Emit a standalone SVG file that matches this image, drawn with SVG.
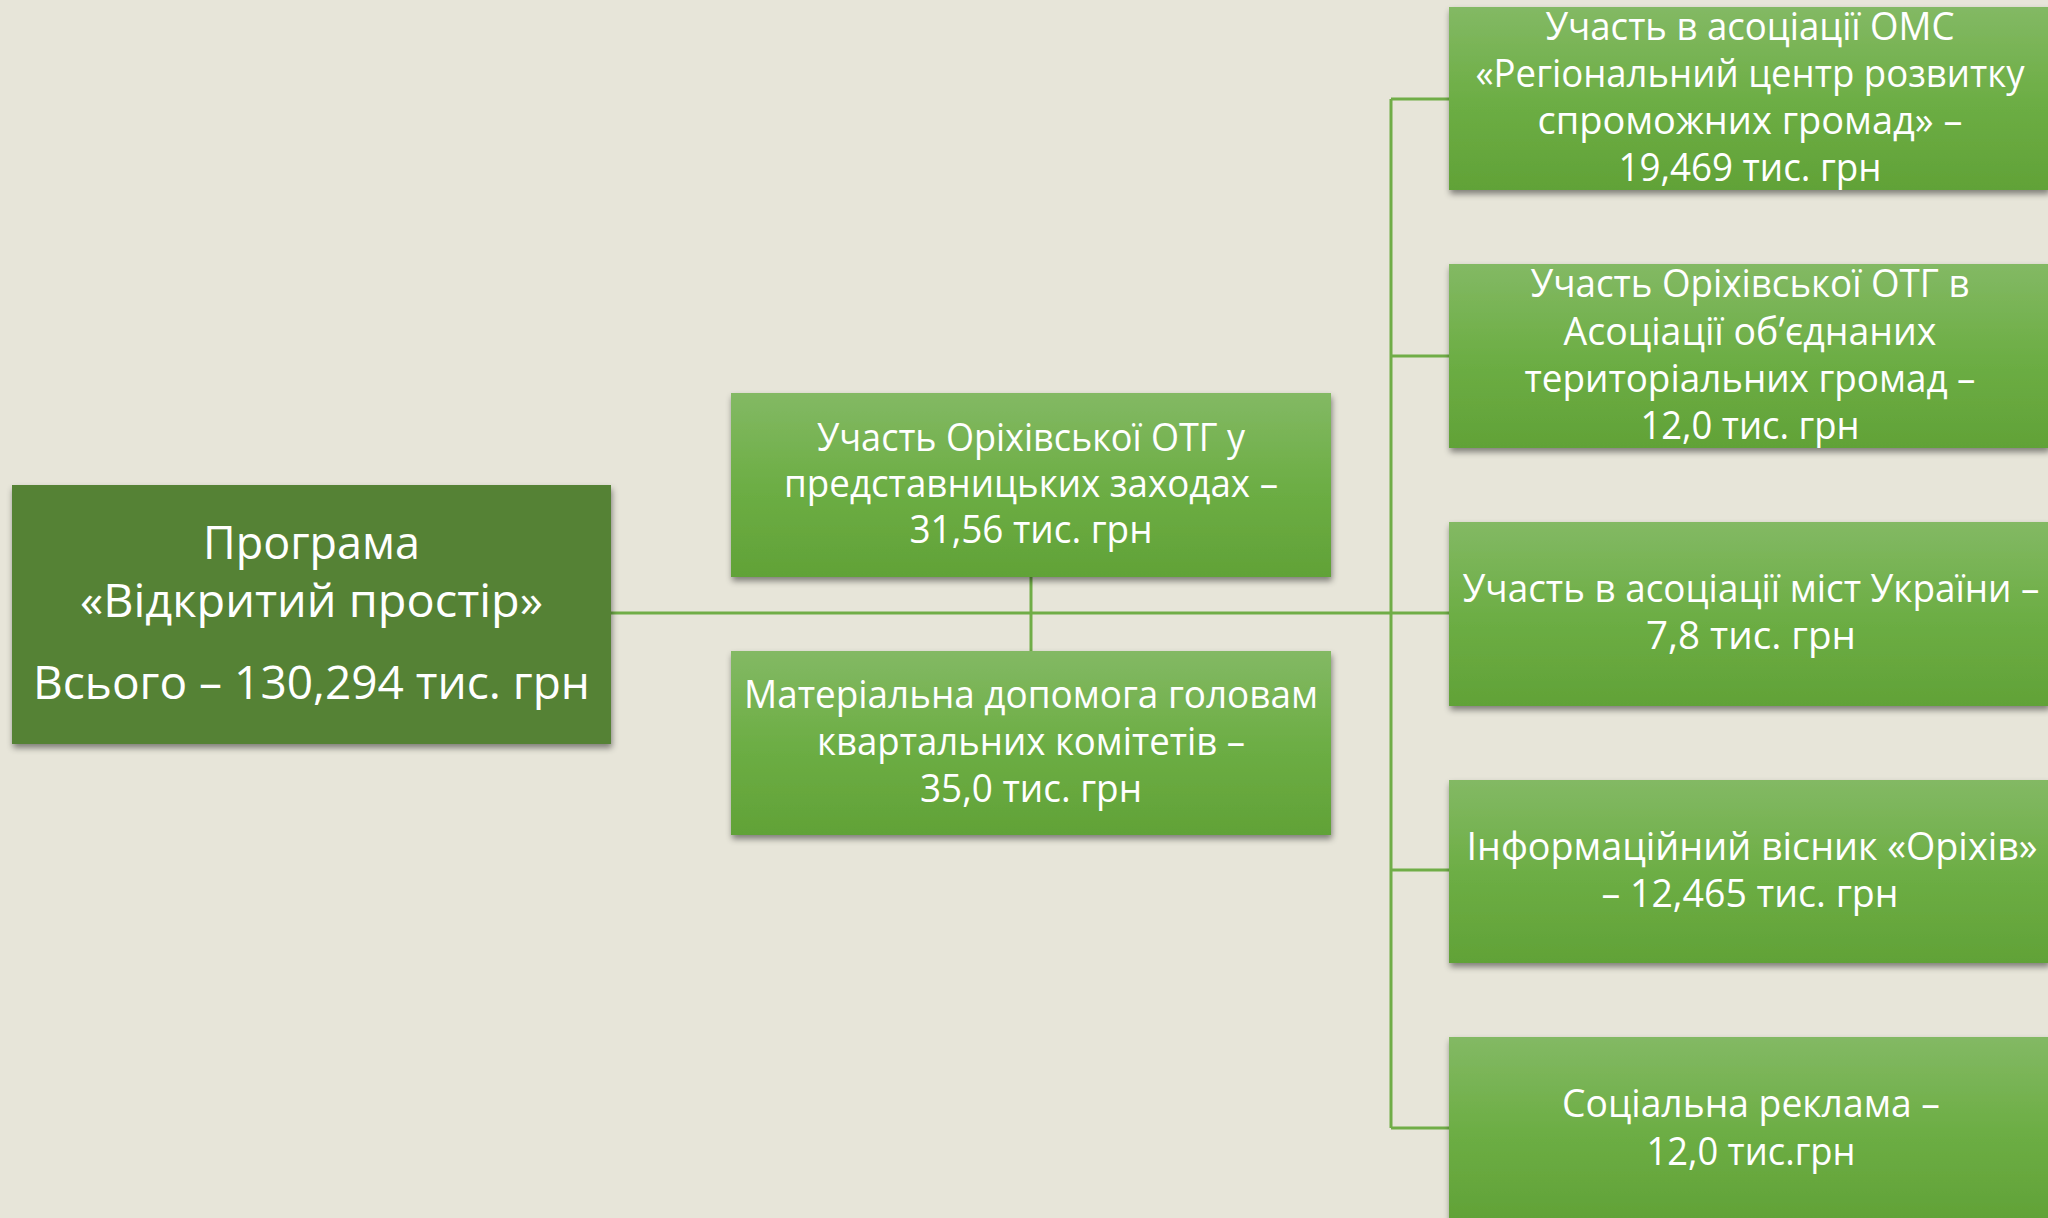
<svg xmlns="http://www.w3.org/2000/svg" width="2048" height="1218" viewBox="0 0 2048 1218">
<defs>
<linearGradient id="g" x1="0" y1="0" x2="0" y2="1">
<stop offset="0" stop-color="#83B964"/>
<stop offset="0.5" stop-color="#6DAE45"/>
<stop offset="1" stop-color="#61A237"/>
</linearGradient>
<filter id="sh" x="-5%" y="-5%" width="115%" height="120%">
<feDropShadow dx="1" dy="4" stdDeviation="3" flood-color="#000" flood-opacity="0.45"/>
</filter>
<style>
.c{fill:url(#g);filter:url(#sh)}
.r{fill:#548235;filter:url(#sh)}
text{font-family:"Open Sans","Noto Sans","DejaVu Sans",sans-serif;fill:#fff;text-anchor:middle}
.t{font-size:38px}
.tr{font-size:46px}
.ln{stroke:#70AD47;stroke-width:3;fill:none}
</style>
</defs>
<rect width="2048" height="1218" fill="#E7E5D9"/>
<g id="connectors">
<path class="ln" d="M611 613H1391M1391 99V1128M1391 99H1449M1391 356H1449M1391 613H1449M1391 870H1449M1391 1128H1449"/>
<path class="ln" d="M1031 577V651"/>
</g>
<g id="root">
<rect class="r" x="12" y="485" width="599" height="259"/>
<text class="tr" x="311.5" y="559" textLength="217" lengthAdjust="spacingAndGlyphs">Програма</text>
<text class="tr" x="311.5" y="617" textLength="463" lengthAdjust="spacingAndGlyphs">«Відкритий простір»</text>
<text class="tr" x="311.5" y="699" textLength="557" lengthAdjust="spacingAndGlyphs">Всього – 130,294 тис. грн</text>
</g>
<g id="mid1">
<rect class="c" x="731" y="393" width="600" height="184"/>
<text class="t" x="1031" y="451" textLength="428" lengthAdjust="spacingAndGlyphs">Участь Оріхівської ОТГ у</text>
<text class="t" x="1031" y="497" textLength="494" lengthAdjust="spacingAndGlyphs">представницьких заходах –</text>
<text class="t" x="1031" y="543" textLength="243" lengthAdjust="spacingAndGlyphs">31,56 тис. грн</text>
</g>
<g id="mid2">
<rect class="c" x="731" y="651" width="600" height="184"/>
<text class="t" x="1031" y="708" textLength="574" lengthAdjust="spacingAndGlyphs">Матеріальна допомога головам</text>
<text class="t" x="1031" y="755" textLength="428" lengthAdjust="spacingAndGlyphs">квартальних комітетів –</text>
<text class="t" x="1031" y="802" textLength="222" lengthAdjust="spacingAndGlyphs">35,0 тис. грн</text>
</g>
<g id="r1">
<rect class="c" x="1449" y="7" width="600" height="183"/>
<text class="t" x="1750" y="40" textLength="409" lengthAdjust="spacingAndGlyphs">Участь в асоціації ОМС</text>
<text class="t" x="1750" y="87" textLength="549" lengthAdjust="spacingAndGlyphs">«Регіональний центр розвитку</text>
<text class="t" x="1750" y="134" textLength="425" lengthAdjust="spacingAndGlyphs">спроможних громад» –</text>
<text class="t" x="1750" y="181" textLength="263" lengthAdjust="spacingAndGlyphs">19,469 тис. грн</text>
</g>
<g id="r2">
<rect class="c" x="1449" y="264" width="600" height="184"/>
<text class="t" x="1750" y="297" textLength="439" lengthAdjust="spacingAndGlyphs">Участь Оріхівської ОТГ  в</text>
<text class="t" x="1750" y="345" textLength="373" lengthAdjust="spacingAndGlyphs">Асоціації об’єднаних</text>
<text class="t" x="1750" y="392" textLength="451" lengthAdjust="spacingAndGlyphs">територіальних громад –</text>
<text class="t" x="1750" y="439" textLength="219" lengthAdjust="spacingAndGlyphs">12,0 тис. грн</text>
</g>
<g id="r3">
<rect class="c" x="1449" y="522" width="600" height="184"/>
<text class="t" x="1751" y="602" textLength="577" lengthAdjust="spacingAndGlyphs">Участь в асоціації міст України –</text>
<text class="t" x="1751" y="649" textLength="210" lengthAdjust="spacingAndGlyphs">7,8 тис. грн</text>
</g>
<g id="r4">
<rect class="c" x="1449" y="780" width="600" height="183"/>
<text class="t" x="1752" y="860" textLength="571" lengthAdjust="spacingAndGlyphs">Інформаційний вісник «Оріхів»</text>
<text class="t" x="1750" y="907" textLength="297" lengthAdjust="spacingAndGlyphs">– 12,465 тис. грн</text>
</g>
<g id="r5">
<rect class="c" x="1449" y="1037" width="600" height="184"/>
<text class="t" x="1751" y="1117" textLength="378" lengthAdjust="spacingAndGlyphs">Соціальна реклама –</text>
<text class="t" x="1751" y="1165" textLength="209" lengthAdjust="spacingAndGlyphs">12,0 тис.грн</text>
</g>
</svg>
